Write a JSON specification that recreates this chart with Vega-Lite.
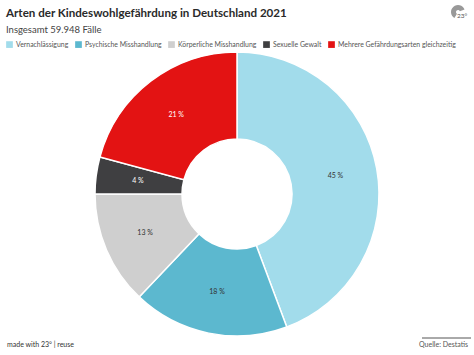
{
"$schema":"https://vega.github.io/schema/vega-lite/v6.json",
"width":474,"height":284,
"autosize":{"type":"none"},
"padding":{"left":0,"right":0,"top":52,"bottom":19},
"background":"white",
"title":{"text":"Arten der Kindeswohlgefährdung in Deutschland 2021","subtitle":"Insgesamt 59.948 Fälle","anchor":"start","frame":"group","dx":6,"offset":-29,"font":"Lato","fontSize":11.6,"fontWeight":700,"color":"#2a2a2a","subtitleFont":"Lato","subtitleFontSize":9.5,"subtitleColor":"#444444","subtitlePadding":5},
"config":{"view":{"stroke":null}},
"layer":[
{"data":{"values":[
{"art":"Vernachlässigung","share":44.3,"order":1,"label":"45 %"},
{"art":"Psychische Misshandlung","share":17.8,"order":2,"label":"18 %"},
{"art":"Körperliche Misshandlung","share":12.9,"order":3,"label":"13 %"},
{"art":"Sexuelle Gewalt","share":4.2,"order":4,"label":"4 %"},
{"art":"Mehrere Gefährdungsarten gleichzeitig","share":20.8,"order":5,"label":"21 %"}]},
"layer":[
{"mark":{"type":"arc","outerRadius":142,"innerRadius":55,"stroke":"white","strokeWidth":1.5},
"encoding":{"theta":{"field":"share","type":"quantitative","stack":true},
"order":{"field":"order","type":"ordinal"},
"color":{"field":"art","type":"nominal","sort":null,
"scale":{"domain":["Vernachlässigung","Psychische Misshandlung","Körperliche Misshandlung","Sexuelle Gewalt","Mehrere Gefährdungsarten gleichzeitig"],"range":["#A2DCEB","#5CB8CF","#CFCFCF","#3F3F41","#E31313"]},
"legend":{"title":null,"orient":"none","legendX":6,"legendY":-11,"direction":"horizontal","columns":5,"symbolType":"square","symbolSize":45,"symbolStrokeWidth":0,"labelFont":"Lato","labelFontSize":6.9,"labelColor":"#555555","columnPadding":6,"labelOffset":3,"labelLimit":200}}}},
{"mark":{"type":"text","radius":100,"font":"Lato","fontSize":7},
"encoding":{"theta":{"field":"share","type":"quantitative","stack":true},
"order":{"field":"order","type":"ordinal"},
"text":{"field":"label"},
"color":{"condition":{"test":"datum.order>=4","value":"#ffffff"},"value":"#333333"}}}
]},
{"data":{"values":[{"t":"made with 23° | reuse"}]},"mark":{"type":"text","align":"left","font":"Lato","fontSize":7,"color":"#333333"},"encoding":{"text":{"field":"t"},"x":{"value":7},"y":{"value":293}}},
{"data":{"values":[{"t":"Quelle: Destatis"}]},"mark":{"type":"text","align":"right","font":"Lato","fontSize":7,"color":"#555555"},"encoding":{"text":{"field":"t"},"x":{"value":468},"y":{"value":293}}},
{"data":{"values":[{"t":"rule"}]},"mark":{"type":"rule","color":"#555555","strokeWidth":1},"encoding":{"x":{"value":422},"x2":{"value":471},"y":{"value":286}}},
{"data":{"values":[{"t":"23°"}]},"mark":{"type":"text","align":"center","font":"Lato","fontSize":6.5,"color":"#555555"},"encoding":{"text":{"field":"t"},"x":{"value":462},"y":{"value":-36}}},
{"data":{"values":[{"t":"logo"}]},"mark":{"type":"arc","innerRadius":2,"outerRadius":7,"theta":-2.6,"theta2":1.2,"color":"#999999"},"encoding":{"x":{"value":458},"y":{"value":-40}}}
]
}
